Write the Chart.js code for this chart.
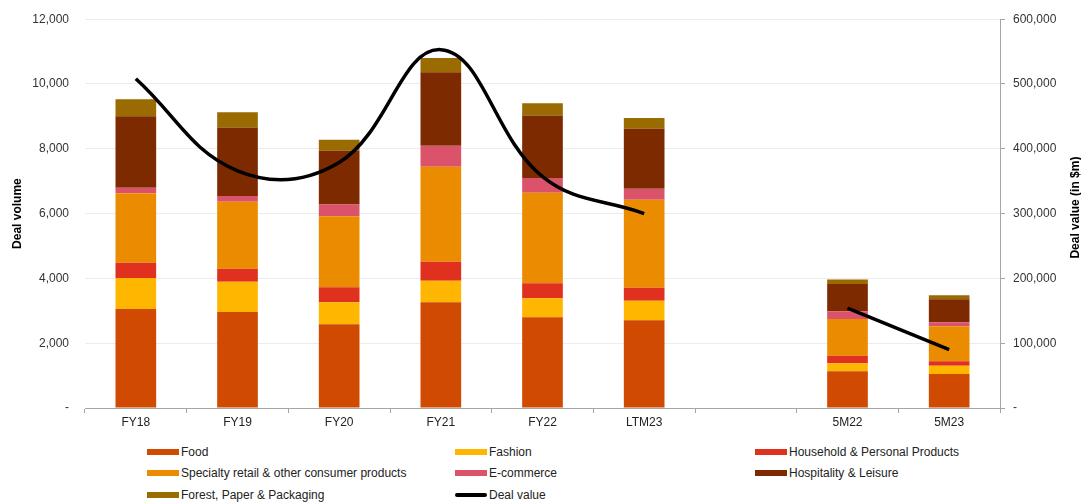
<!DOCTYPE html>
<html>
<head>
<meta charset="utf-8">
<script src="https://cdn.jsdelivr.net/npm/chart.js@4"></script>
<style>
  body { margin: 0; background: #fff; font-family: 'Liberation Sans', Arial, sans-serif; overflow: hidden; }
  #wrap { position: relative; width: 1081px; height: 444px; margin-top: -4px; }
  #legend { position: relative; width: 1081px; height: 62px; }
  .item { position: absolute; font-size: 12px; color: #222; line-height: 14px; white-space: nowrap; }
  .sw { display: inline-block; width: 32px; height: 6px; vertical-align: middle; margin-right: 2px; margin-top: -2px; }
  .sw.line { height: 4px; border-radius: 2px; }
</style>
</head>
<body>
<div id="wrap"><canvas id="chart"></canvas></div>
<div id="legend"></div>
<script>
'use strict';

// categories (blank one is the gap between LTM23 and 5M22)
var labels = ['FY18', 'FY19', 'FY20', 'FY21', 'FY22', 'LTM23', '', '5M22', '5M23'];

// deal volume by sector
var food        = [3055, 2963, 2585, 3262, 2800, 2708, null, 1138, 1046];
var fashion     = [954, 935, 677, 668, 585, 606, null, 246, 255];
var household   = [474, 400, 462, 585, 462, 400, null, 225, 145];
var specialty   = [2142, 2071, 2194, 2932, 2800, 2717, null, 1138, 1077];
var ecommerce   = [175, 175, 360, 646, 452, 338, null, 237, 123];
var hospitality = [2206, 2111, 1662, 2268, 1926, 1846, null, 840, 708];
var forest      = [523, 474, 338, 440, 382, 338, null, 145, 123];

// deal value in $m (right axis)
var dealValue = [508000, 366000, 379000, 553000, 357000, 300000, null, 154000, 90000];

var FONT = "'Liberation Sans', Arial, sans-serif";

function bar(label, data, color) {
  return {
    type: 'bar',
    label: label,
    data: data,
    backgroundColor: color,
    borderWidth: 0,
    yAxisID: 'y',
    stack: 'vol',
    order: 1,
    barPercentage: 0.4,
    categoryPercentage: 1
  };
}

var datasets = [
  bar('Food', food, '#D04A02'),
  bar('Fashion', fashion, '#FFB600'),
  bar('Household & Personal Products', household, '#E0301E'),
  bar('Specialty retail & other consumer products', specialty, '#EB8C00'),
  bar('E-commerce', ecommerce, '#DB536A'),
  bar('Hospitality & Leisure', hospitality, '#7D2A00'),
  bar('Forest, Paper & Packaging', forest, '#9A6B00'),
  {
    type: 'line',
    label: 'Deal value',
    data: dealValue,
    borderColor: '#000',
    backgroundColor: '#000',
    borderWidth: 3.5,
    pointRadius: 0,
    tension: 0.4,
    spanGaps: false,
    yAxisID: 'y1',
    order: 0
  }
];

function fmt(v) {
  return v === 0 ? '-' : v.toLocaleString('en-US');
}

// right axis title reads bottom-to-top, so draw it here instead of the scale title
var rightTitle = {
  id: 'rightTitle',
  afterDraw: function (c) {
    var g = c.ctx;
    var a = c.chartArea;
    g.save();
    g.translate(1076, (a.top + a.bottom) / 2 - 6);
    g.rotate(-Math.PI / 2);
    g.font = 'bold 12px ' + FONT;
    g.fillStyle = '#000';
    g.textAlign = 'center';
    g.textBaseline = 'middle';
    g.fillText('Deal value (in $m)', 0, 0);
    g.restore();
  }
};

var ctx = document.getElementById('chart').getContext('2d');
var chart = new Chart(ctx, {
  data: { labels: labels, datasets: datasets },
  plugins: [rightTitle],
  options: {
    responsive: true,
    maintainAspectRatio: false,
    animation: false,
    layout: { padding: { top: 14, bottom: 0, left: 0, right: 0 } },
    plugins: {
      legend: { display: false },
      tooltip: { enabled: false }
    },
    scales: {
      x: {
        stacked: true,
        grid: { display: true, drawOnChartArea: false, offset: true, tickLength: 5, color: '#a6a6a6' },
        border: { color: '#a6a6a6' },
        ticks: { color: '#222', font: { family: FONT, size: 12 }, padding: 2, maxRotation: 0 },
        afterFit: function (s) { s.height = 32; }
      },
      y: {
        position: 'left',
        stacked: true,
        min: 0, max: 12000,
        ticks: { stepSize: 2000, callback: fmt, color: '#333', font: { family: FONT, size: 12 }, padding: 16 },
        grid: { color: '#ececec', drawTicks: false },
        border: { display: false },
        title: { display: true, text: 'Deal volume', color: '#000', font: { family: FONT, size: 12, weight: 'bold' }, padding: { top: 10, bottom: 0 } },
        afterFit: function (s) { s.width = 85; }
      },
      y1: {
        position: 'right',
        min: 0, max: 600000,
        ticks: { stepSize: 100000, callback: fmt, color: '#333', font: { family: FONT, size: 12 }, padding: 8 },
        grid: { drawOnChartArea: false, tickLength: 5, color: '#a6a6a6' },
        border: { color: '#a6a6a6' },
        afterFit: function (s) { s.width = 81; }
      }
    }
  }
});

// legend in three columns, built from the chart datasets
var cols = [147, 455, 755];
var rows = [445, 466, 488];
var legend = document.getElementById('legend');
chart.data.datasets.forEach(function (d, i) {
  var el = document.createElement('div');
  el.className = 'item';
  el.style.left = cols[i % 3] + 'px';
  el.style.top = (rows[Math.floor(i / 3)] - 440) + 'px';
  var sw = document.createElement('span');
  sw.className = 'sw' + (d.type === 'line' ? ' line' : '');
  sw.style.background = d.type === 'line' ? d.borderColor : d.backgroundColor;
  el.appendChild(sw);
  el.appendChild(document.createTextNode(d.label));
  legend.appendChild(el);
});
</script>
</body>
</html>
